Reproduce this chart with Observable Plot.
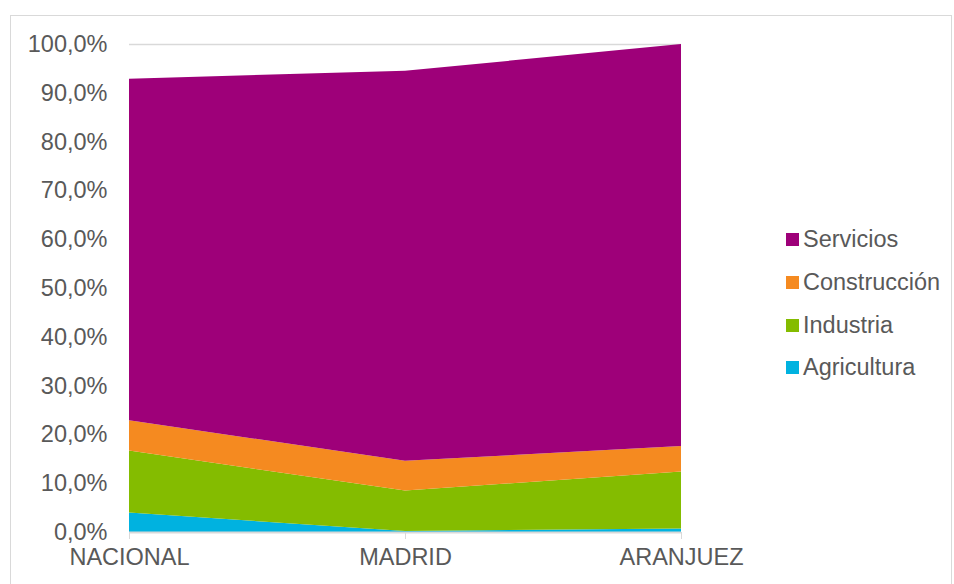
<!DOCTYPE html>
<html><head><meta charset="utf-8">
<script src="https://cdn.jsdelivr.net/npm/d3@7"></script>
<script src="https://cdn.jsdelivr.net/npm/@observablehq/plot@0.6"></script>
<style>
body{margin:0;background:#fff;font-family:"Liberation Sans",Arial,sans-serif;}
#wrap{position:relative;width:954px;height:584px;overflow:hidden;background:#fff;}
#border{position:absolute;left:10px;top:15px;width:942px;height:620px;border:1px solid #d9d9d9;box-sizing:border-box;}
#chart{position:absolute;left:0;top:0;}
.item{position:absolute;left:786px;height:28px;display:flex;align-items:center;font-size:23.5px;color:#595959;white-space:nowrap;}
.sw{width:13px;height:13px;margin-right:4px;}
</style>
</head><body>
<div id="wrap"><div id="border"></div><div id="chart"></div><div id="legend"></div></div>
<script>
const regions = ["NACIONAL", "MADRID", "ARANJUEZ"];
const sectors = ["Agricultura", "Industria", "Construcción", "Servicios"];
const agricultura = [0.040, 0.002, 0.007];
const industria = [0.127, 0.083, 0.117];
const construccion = [0.062, 0.061, 0.052];
const servicios = [0.700, 0.799, 0.824];
const colors = ["#00B2E0", "#84BC00", "#F58A20", "#9E0079"];
const yTicks = [0, 0.1, 0.2, 0.3, 0.4, 0.5, 0.6, 0.7, 0.8, 0.9, 1.0];
const legendOrder = ["Servicios", "Construcción", "Industria", "Agricultura"];
const legendCenters = [239, 282, 325, 367];

const seriesValues = [agricultura, industria, construccion, servicios];
const data = [];
sectors.forEach((s, i) => regions.forEach((r, j) => data.push({sector: s, region: r, value: seriesValues[i][j]})));

const fmt = d => (d * 100).toFixed(1).replace(".", ",") + "%";

const chart = Plot.plot({
  width: 954, height: 584,
  marginLeft: 129, marginRight: 273, marginTop: 44, marginBottom: 52,
  style: {fontFamily: '"Liberation Sans", Arial, sans-serif', fontSize: "23.5px", color: "#595959", background: "transparent", overflow: "visible"},
  x: {type: "point", domain: regions, padding: 0, label: null},
  y: {domain: [0, 1], label: null},
  color: {domain: sectors, range: colors},
  marks: [
    Plot.ruleY([1], {stroke: "#d9d9d9", strokeWidth: 1.3}),
    Plot.areaY(data, {x: "region", y: "value", fill: "sector", z: "sector"}),
    Plot.ruleY([0], {stroke: "#d9d9d9", strokeWidth: 2}),
    Plot.axisY({ticks: yTicks, tickFormat: fmt, tickSize: 0, tickPadding: 22, fill: "#595959", fontSize: "23.5px"}),
    Plot.axisX({tickSize: 7, tickPadding: 9, stroke: "#d9d9d9", fill: "#595959", fontSize: "23.5px"})
  ]
});
document.getElementById("chart").appendChild(chart);

const legend = document.getElementById("legend");
legendOrder.forEach((s, i) => {
  const d = document.createElement("div");
  d.className = "item";
  d.style.top = (legendCenters[i] - 14) + "px";
  const sw = document.createElement("div");
  sw.className = "sw";
  sw.style.background = colors[sectors.indexOf(s)];
  const t = document.createElement("span");
  t.textContent = s;
  d.appendChild(sw); d.appendChild(t);
  legend.appendChild(d);
});
</script>
</body></html>
